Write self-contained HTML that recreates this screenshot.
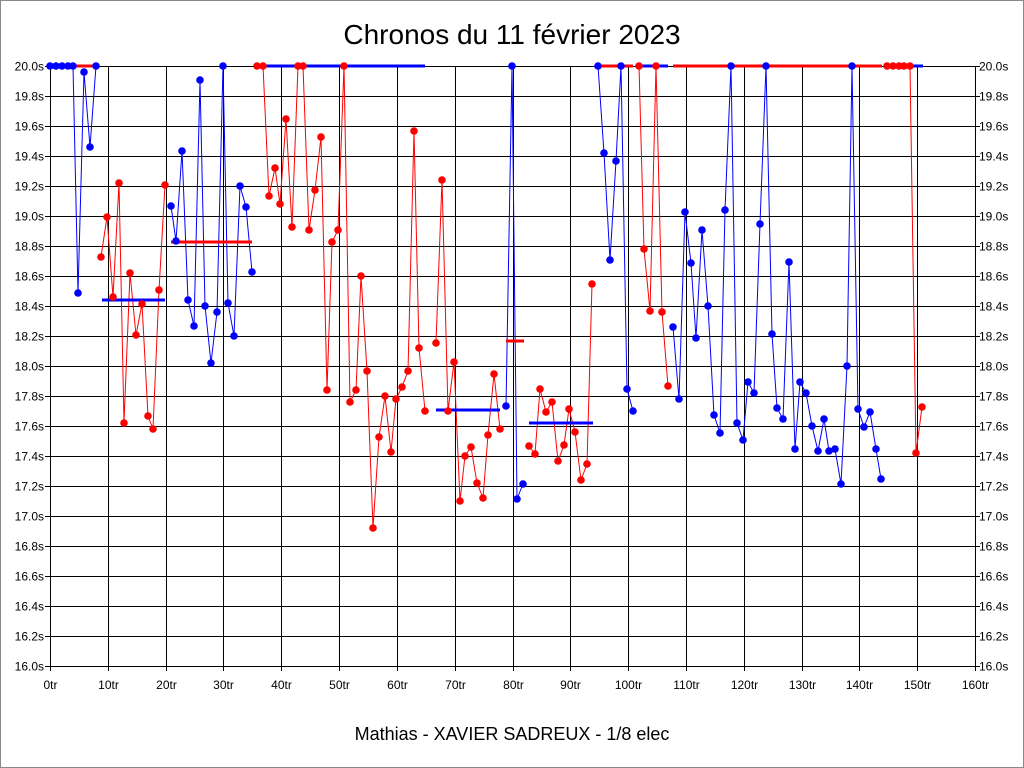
<!DOCTYPE html>
<html><head><meta charset="utf-8"><style>
body{margin:0;background:#fff;}
svg{display:block;font-family:"Liberation Sans",sans-serif;}
</style></head><body>
<svg id="s" width="1024" height="768" xmlns="http://www.w3.org/2000/svg">
<rect x="0.5" y="0.5" width="1023" height="767" fill="#fff" stroke="#888"/>
<text x="512" y="44" font-size="28" text-anchor="middle">Chronos du 11 février 2023</text>
<text x="512" y="740" font-size="18" text-anchor="middle">Mathias - XAVIER SADREUX - 1/8 elec</text>
<g id="g"></g>
</svg>
<script>
var g=document.getElementById('g'),h='';
for(var i=0;i<=16;i++){var x=Math.round(50+i*925/16)+0.5;h+='<line x1="'+x+'" y1="66" x2="'+x+'" y2="671" stroke="#000" shape-rendering="crispEdges"/>';
h+='<text x="'+x+'" y="689" font-size="12" text-anchor="middle">'+(i*10)+'tr</text>';}
for(var j=0;j<=20;j++){var y=66+j*30+0.5;h+='<line x1="45" y1="'+y+'" x2="980" y2="'+y+'" stroke="#000" shape-rendering="crispEdges"/>';
var v=(20-j*0.2).toFixed(1)+'s';h+='<text x="44" y="'+(y+4)+'" font-size="12" text-anchor="end">'+v+'</text>';
h+='<text x="979" y="'+(y+4)+'" font-size="12">'+v+'</text>';}
var B='#0000ff',R='#ff0000';
var bars=[[70,96,66,R],[102,165,300,B],[171,252,242,R],[263,425,66,B],[436,500,410,B],[506,524,341,R],[529,593,423,B],[598,633,66,R],[641,668,66,B],[673,882,66,R],[910,923,66,B]];
var segs=[
[B,[[50,66],[56,66],[62,66],[68,66],[73,66],[78,293],[84,72],[90,147],[96,66]]],
[R,[[101,257],[107,217],[113,297],[119,183],[124,423],[130,273],[136,335],[142,304],[148,416],[153,429],[159,290],[165,185]]],
[B,[[171,206],[176,241],[182,151],[188,300],[194,326],[200,80],[205,306],[211,363],[217,312],[223,66],[228,303],[234,336],[240,186],[246,207],[252,272]]],
[R,[[257,66],[263,66],[269,196],[275,168],[280,204],[286,119],[292,227],[298,66],[303,66],[309,230],[315,190],[321,137],[327,390],[332,242],[338,230],[344,66],[350,402],[356,390],[361,276],[367,371],[373,528],[379,437],[385,396],[391,452],[396,399],[402,387],[408,371],[414,131],[419,348],[425,411]]],
[R,[[436,343],[442,180],[448,411],[454,362],[460,501],[465,456],[471,447],[477,483],[483,498],[488,435],[494,374],[500,429]]],
[B,[[506,406],[512,66],[517,499],[523,484]]],
[R,[[529,446],[535,454],[540,389],[546,412],[552,402],[558,461],[564,445],[569,409],[575,432],[581,480],[587,464],[592,284]]],
[B,[[598,66],[604,153],[610,260],[616,161],[621,66],[627,389],[633,411]]],
[R,[[639,66],[644,249],[650,311],[656,66],[662,312],[668,386]]],
[B,[[673,327],[679,399],[685,212],[691,263],[696,338],[702,230],[708,306],[714,415],[720,433],[725,210],[731,66],[737,423],[743,440],[748,382],[754,393],[760,224],[766,66],[772,334],[777,408],[783,419],[789,262],[795,449],[800,382],[806,393],[812,426],[818,451],[824,419],[829,451],[835,449],[841,484],[847,366],[852,66],[858,409],[864,427],[870,412],[876,449],[881,479]]],
[R,[[887,66],[893,66],[899,66],[904,66],[910,66],[916,453],[922,407]]]
];
segs.forEach(function(s){h+='<polyline fill="none" stroke="'+s[0]+'" stroke-width="1" points="'+s[1].map(function(p){return p.join(',')}).join(' ')+'"/>';});
bars.forEach(function(b){h+='<line x1="'+b[0]+'" y1="'+b[2]+'" x2="'+b[1]+'" y2="'+b[2]+'" stroke="'+b[3]+'" stroke-width="3"/>';});
segs.forEach(function(s){s[1].forEach(function(p){h+='<circle cx="'+p[0]+'" cy="'+p[1]+'" r="3.8" fill="'+s[0]+'"/>';});});
g.innerHTML=h;
</script>
</body></html>
